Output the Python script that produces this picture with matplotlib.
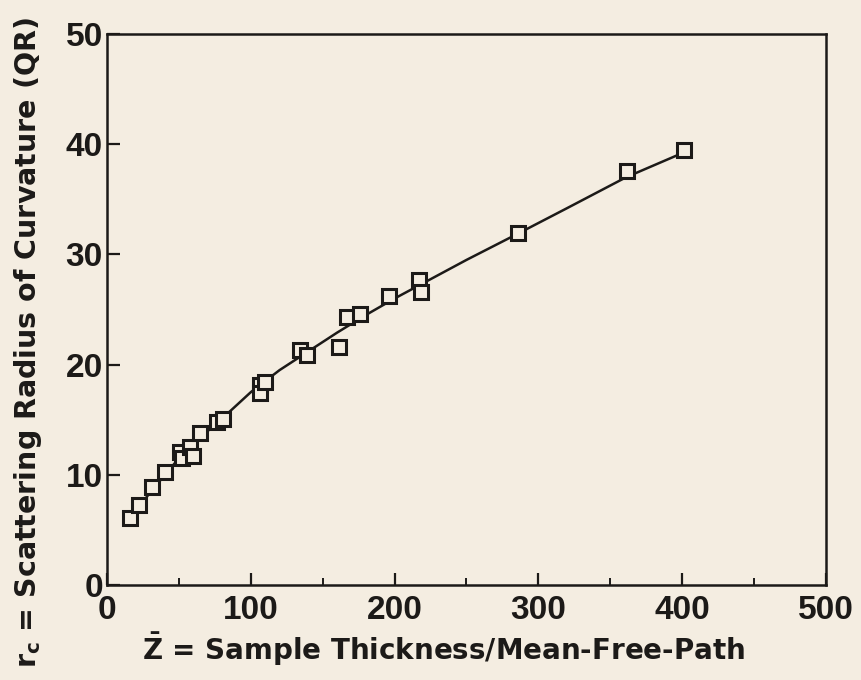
import matplotlib.pyplot as plt
from matplotlib.ticker import MultipleLocator

plt.rcParams['font.family'] = ['Liberation Sans', 'DejaVu Sans']
plt.rcParams['font.weight'] = 'bold'
plt.rcParams['mathtext.fontset'] = 'custom'
plt.rcParams['mathtext.rm'] = 'DejaVu Sans:bold'
plt.rcParams['mathtext.it'] = 'DejaVu Sans:bold'
plt.rcParams['mathtext.bf'] = 'DejaVu Sans:bold'

# measured points: reduced thickness vs scattering radius
z_bar = [16.0, 22.5, 31.1, 40.4, 50.9, 52.0, 57.8, 59.7, 64.8, 76.4, 81.0,
         106.1, 106.1, 110.0, 134.5, 139.2, 161.2, 167.0, 175.8, 196.0,
         217.0, 218.6, 286.0, 361.4, 401.6]
r_c = [6.05, 7.26, 8.87, 10.28, 12.1, 11.5, 12.55, 11.7, 13.8, 14.8, 15.1,
       18.15, 17.4, 18.45, 21.3, 20.9, 21.6, 24.35, 24.6, 26.2,
       27.7, 26.6, 31.97, 37.6, 39.5]

# smooth fitted curve drawn through the data
curve_z = [16, 30, 50, 65, 80, 100, 120, 140, 160, 180, 200, 220, 250,
           286, 320, 361, 402]
curve_r = [6.0, 8.4, 11.5, 13.4, 15.1, 17.5, 19.5, 21.2, 22.9, 24.5, 26.0,
           27.4, 29.5, 31.9, 34.2, 37.0, 39.3]

x_ticks = [0, 100, 200, 300, 400, 500]
y_ticks = [0, 10, 20, 30, 40, 50]

bg = '#f4ede1'
ink = '#1c1a18'

fig = plt.figure(figsize=(8.61, 6.8), dpi=100, facecolor=bg)
ax = fig.add_axes([0.1243, 0.1397, 0.835, 0.8103], facecolor=bg)

ax.plot(curve_z, curve_r, color=ink, lw=1.8, zorder=2)
ax.plot(z_bar, r_c, linestyle='none', marker='s', markersize=10.5,
        markerfacecolor=bg, markeredgecolor=ink, markeredgewidth=2.2, zorder=3)

ax.set_xlim(0, 500)
ax.set_ylim(0, 50)
ax.set_xticks(x_ticks)
ax.set_yticks(y_ticks)
ax.xaxis.set_minor_locator(MultipleLocator(50))

for s in ax.spines.values():
    s.set_linewidth(1.8)
    s.set_color(ink)

ax.tick_params(axis='both', which='major', direction='in', length=9, width=1.6,
               colors=ink, labelsize=24)
ax.tick_params(axis='x', which='minor', direction='in', length=5, width=1.4, colors=ink)
ax.tick_params(axis='y', pad=3)
ax.tick_params(axis='x', pad=7)

ax.set_xlabel(r'$\bar{\mathrm{Z}}$ = Sample Thickness/Mean-Free-Path',
              fontsize=20, fontweight='bold', color=ink, family='DejaVu Sans')
ax.set_ylabel(r'r$_{\mathrm{c}}$ = Scattering Radius of Curvature (QR)',
              fontsize=20.5, fontweight='bold', color=ink, family='DejaVu Sans')
ax.xaxis.set_label_coords(0.468, -0.083)
ax.yaxis.set_label_coords(-0.088, 0.44)

plt.savefig('out.png', dpi=100, facecolor=bg)
